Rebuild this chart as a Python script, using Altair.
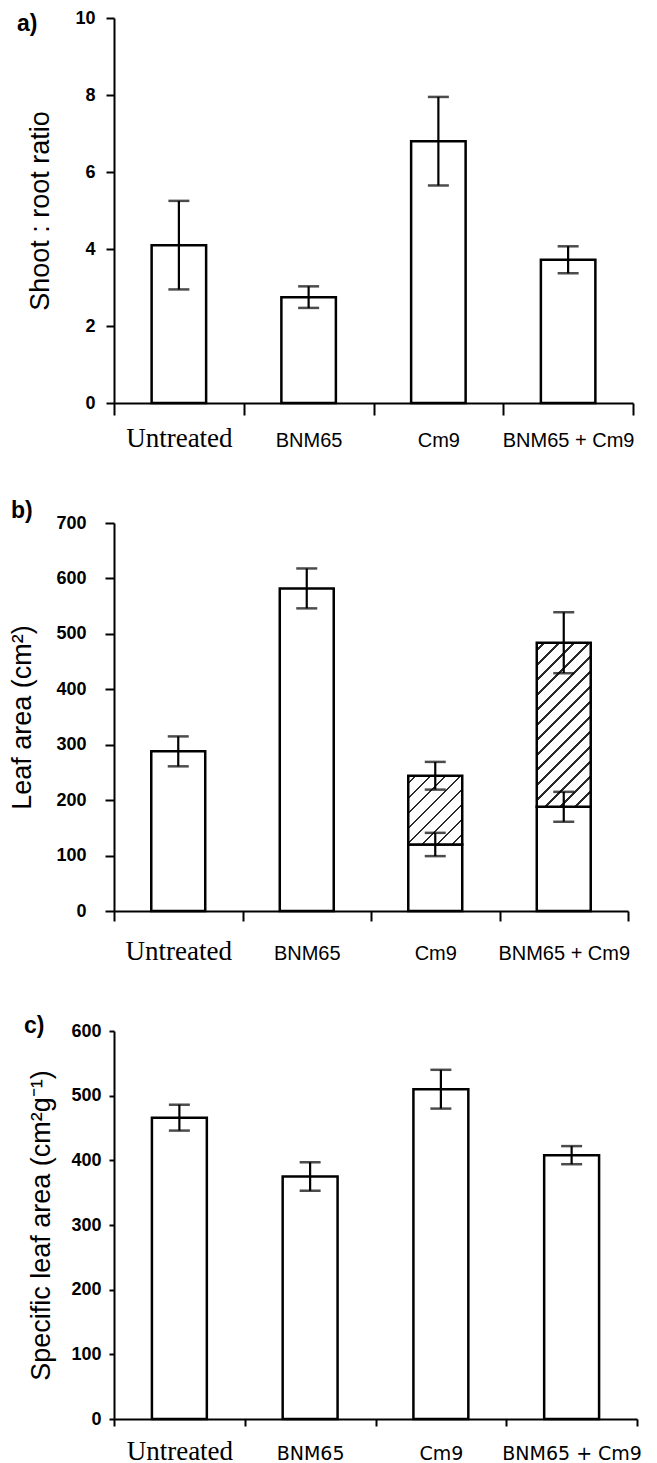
import altair as alt
import pandas as pd

# ---------------- data ----------------
categories = ["Untreated", "BNM65", "Cm9", "BNM65 + Cm9"]

shoot_root = [4.1, 2.75, 6.8, 3.72]
shoot_root_err = [1.15, 0.28, 1.15, 0.35]

leaf_total = [288, 582, 244, 484]
leaf_total_err = [27, 36, 25, 55]
leaf_lower_cats = ["Cm9", "BNM65 + Cm9"]
leaf_lower = [120, 188]
leaf_lower_err = [21, 27]

sla = [466, 375, 510, 408]
sla_err = [20, 22, 30, 14]

ticks_a = [0, 2, 4, 6, 8, 10]
ticks_b = [0, 100, 200, 300, 400, 500, 600, 700]
ticks_c = [0, 100, 200, 300, 400, 500, 600]

# ---------------- style ----------------
BAR_BAND = 0.42
SANS = "Liberation Sans"
SERIF = "Liberation Serif"


def frame(cats, vals, errs):
    return pd.DataFrame({
        "cat": cats,
        "val": vals,
        "lo": [v - e for v, e in zip(vals, errs)],
        "hi": [v + e for v, e in zip(vals, errs)],
    })


def x_enc(tick_size, baseline_off, sans_font, sans_size, serif_size):
    return alt.X(
        "cat:N", sort=categories, title=None,
        scale=alt.Scale(paddingInner=0, paddingOuter=0),
        axis=alt.Axis(
            labelAngle=0, tickBand="extent", tickSize=tick_size, tickWidth=2,
            tickColor="black", domainColor="black", domainWidth=2,
            labelBaseline="alphabetic", labelPadding=baseline_off - tick_size,
            labelColor="black", labelOverlap=False, labelLimit=0,
            labelFont={"condition": {"test": "datum.value === 'Untreated'", "value": SERIF},
                       "value": sans_font},
            labelFontSize={"condition": {"test": "datum.value === 'Untreated'", "value": serif_size},
                           "value": sans_size},
        ),
    )


def y_enc(field, domain, ticks, title, tick_size, label_pad, title_pad):
    return alt.Y(
        field, type="quantitative", title=title,
        scale=alt.Scale(domain=domain, nice=False, zero=True),
        axis=alt.Axis(
            values=ticks, grid=False, tickSize=tick_size, tickWidth=2,
            tickColor="black", domainColor="black", domainWidth=2,
            labelFont=SANS, labelFontWeight="bold", labelFontSize=18,
            labelColor="black", labelPadding=label_pad,
            titleFont=SANS, titleFontSize=27, titleFontWeight="normal",
            titleColor="black", titlePadding=title_pad,
        ),
    )


def error_layers(df, X, Ylo, Yhi):
    rule = alt.Chart(df).mark_rule(color="black", strokeWidth=2.2).encode(
        x=X, y=Ylo, y2="hi:Q")
    cap_lo = alt.Chart(df).mark_tick(color="black", thickness=2.5, size=21).encode(
        x=X, y=Ylo)
    cap_hi = alt.Chart(df).mark_tick(color="black", thickness=2.5, size=21).encode(
        x=X, y=Yhi)
    return [rule, cap_lo, cap_hi]


def panel_label(text, dx, dy):
    return alt.Chart(pd.DataFrame({"t": [text]})).mark_text(
        font=SANS, fontSize=23, fontWeight="bold", color="black",
        align="left", baseline="alphabetic",
    ).encode(x=alt.value(dx), y=alt.value(dy), text="t:N")


def hatch(w, h, spacing=15.0, lw=1.5, color="#2a2a2a"):
    L = w + h
    c = L / (w * w + h * h)
    stops = [alt.GradientStop(offset=0, color="white")]
    hw = lw * 1.4142 / 2 / L
    k = 0
    while True:
        cen = (k + 0.5) * spacing / L
        if cen + hw >= 1:
            break
        stops += [
            alt.GradientStop(offset=cen - hw, color="white"),
            alt.GradientStop(offset=cen - hw, color=color),
            alt.GradientStop(offset=cen + hw, color=color),
            alt.GradientStop(offset=cen + hw, color="white"),
        ]
        k += 1
    stops.append(alt.GradientStop(offset=1, color="white"))
    return alt.LinearGradient(gradient="linear", stops=stops,
                              x1=0, y1=0, x2=c * w, y2=c * h)


bar_kw = dict(fill="white", stroke="black", strokeWidth=2.5,
              width=alt.RelativeBandSize(BAR_BAND))

# ---------------- panel a ----------------
Wa, Ha = 519, 385
df_a = frame(categories, shoot_root, shoot_root_err)
Xa = x_enc(12, 43, SANS, 20, 27)
ya = dict(domain=[0, 10], ticks=ticks_a, title="Shoot : root ratio",
          tick_size=8, label_pad=11, title_pad=20)
bars_a = alt.Chart(df_a).mark_bar(**bar_kw).encode(x=Xa, y=y_enc("val", **ya))
panel_a = alt.layer(
    bars_a,
    *error_layers(df_a, Xa, y_enc("lo", **ya), y_enc("hi", **ya)),
    panel_label("a)", -97, 13),
).properties(width=Wa, height=Ha)

# ---------------- panel b ----------------
Wb, Hb = 514, 388
yb_dom = [0, 700]
df_b = frame(categories, leaf_total, leaf_total_err)
lower_map = dict(zip(leaf_lower_cats, leaf_lower))
df_b["base"] = [lower_map.get(c, v) for c, v in zip(categories, leaf_total)]
df_b_low = frame(leaf_lower_cats, leaf_lower, leaf_lower_err)
Xb = x_enc(10, 48, SANS, 20, 27)
yb = dict(domain=yb_dom, ticks=ticks_b, title="Leaf area (cm²)",
          tick_size=9, label_pad=19, title_pad=19)
bars_b = alt.Chart(df_b).mark_bar(**bar_kw).encode(x=Xb, y=y_enc("base", **yb))

bar_w_px = BAR_BAND * Wb / len(categories)
hatched = []
for cat, low in zip(leaf_lower_cats, leaf_lower):
    top = leaf_total[categories.index(cat)]
    h_px = (top - low) * Hb / (yb_dom[1] - yb_dom[0])
    hatched.append(
        alt.Chart(df_b).transform_filter(alt.datum.cat == cat).mark_bar(
            fill=hatch(bar_w_px, h_px), stroke="black", strokeWidth=2.5,
            width=alt.RelativeBandSize(BAR_BAND),
        ).encode(x=Xb, y=y_enc("base", **yb), y2="val:Q")
    )

panel_b = alt.layer(
    bars_b, *hatched,
    *error_layers(df_b, Xb, y_enc("lo", **yb), y_enc("hi", **yb)),
    *error_layers(df_b_low, Xb, y_enc("lo", **yb), y_enc("hi", **yb)),
    panel_label("b)", -103, -5),
).properties(width=Wb, height=Hb)

# ---------------- panel c ----------------
Wc, Hc = 523, 388
df_c = frame(categories, sla, sla_err)
Xc = x_enc(7, 40, "DejaVu Sans", 19, 27)
yc = dict(domain=[0, 600], ticks=ticks_c, title="Specific leaf area (cm²g⁻¹)",
          tick_size=5, label_pad=8, title_pad=15)
bars_c = alt.Chart(df_c).mark_bar(**bar_kw).encode(x=Xc, y=y_enc("val", **yc))
panel_c = alt.layer(
    bars_c,
    *error_layers(df_c, Xc, y_enc("lo", **yc), y_enc("hi", **yc)),
    panel_label("c)", -90, 2),
).properties(width=Wc, height=Hc)

chart = alt.vconcat(panel_a, panel_b, panel_c, spacing=120, bounds="flush").properties(
    padding={"left": 0, "top": 1, "right": 5, "bottom": 5},
    background="white",
).configure_view(stroke=None)

chart.save("out.html", embed_options={"renderer": "svg", "actions": False})
